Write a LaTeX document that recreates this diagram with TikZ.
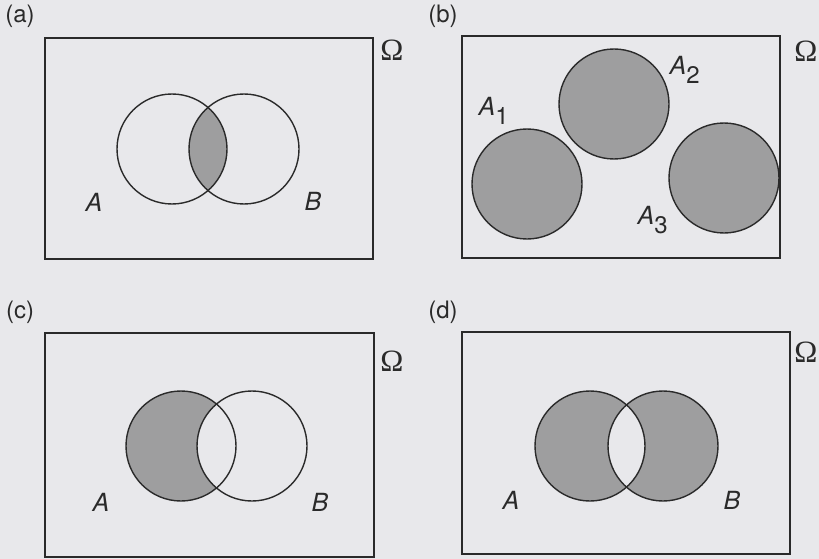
\documentclass[tikz,border=0pt]{standalone}
\usepackage{fontspec}
\setmainfont{TeX Gyre Heros}
\newfontfamily\omegafont{Liberation Serif}
\definecolor{paper}{HTML}{E8E8EB}
\definecolor{grayfill}{HTML}{9E9E9F}
\definecolor{ink}{HTML}{2A2A2A}
\begin{document}
\begin{tikzpicture}[x=1pt,y=-1pt,
  frame/.style={draw=ink,line width=1.5pt},
  ring/.style={draw=ink,line width=1.4pt},
  tag/.style={font=\fontsize{24}{26}\selectfont,text=ink,inner sep=0pt},
  setlbl/.style={font=\fontsize{25}{27}\selectfont\itshape,text=ink,inner sep=0pt},
  omg/.style={font=\omegafont\fontsize{31}{33}\selectfont,text=ink,inner sep=0pt}]
\fill[paper] (0,0) rectangle (819,559);
\useasboundingbox (0,0) rectangle (819,559);
% ---------- (a) ----------
\node[tag] (ta) at (20,16) {(a)};
\draw[frame] (45,38) rectangle (373,259);
\node[omg] (oa) at (392,50) {Ω};
\begin{scope}
  \clip (172,149) circle (55);
  \fill[grayfill] (244,149) circle (55);
\end{scope}
\draw[ring] (172,149) circle (55);
\draw[ring] (244,149) circle (55);
\node[setlbl] (la) at (94,202) {A};
\node[setlbl] (lb) at (313,201) {B};
% ---------- (b) ----------
\node[tag] (tb) at (443,16) {(b)};
\draw[frame] (462,36) rectangle (780,258);
\node[omg] (ob) at (806,51) {Ω};
\fill[grayfill] (527,184) circle (55);
\fill[grayfill] (614,104) circle (55);
\fill[grayfill] (724,178) circle (55);
\draw[ring] (527,184) circle (55);
\draw[ring] (614,104) circle (55);
\draw[ring] (724,178) circle (55);
\node[setlbl] (l1) at (494,111) {A\textsubscript{\fontsize{24}{26}\selectfont\upshape 1}};
\node[setlbl] (l2) at (685,70) {A\textsubscript{\fontsize{24}{26}\selectfont\upshape 2}};
\node[setlbl] (l3) at (653,220) {A\textsubscript{\fontsize{24}{26}\selectfont\upshape 3}};
% ---------- (c) ----------
\node[tag] (tc) at (20,312) {(c)};
\draw[frame] (45,333) rectangle (374,557);
\node[omg] (oc) at (392,361) {Ω};
\begin{scope}
  \clip (181,446) circle (55);
  \fill[grayfill,even odd rule] (181,446) circle (55) (252,446) circle (55);
\end{scope}
\draw[ring] (181,446) circle (55);
\draw[ring] (252,446) circle (55);
\node[setlbl] (lc1) at (101,502) {A};
\node[setlbl] (lc2) at (320,502) {B};
% ---------- (d) ----------
\node[tag] (td) at (443,312) {(d)};
\draw[frame] (462,332) rectangle (790,554);
\node[omg] (od) at (806,352) {Ω};
\fill[grayfill,even odd rule] (590,446) circle (55) (663,446) circle (55);
\draw[ring] (590,446) circle (55);
\draw[ring] (663,446) circle (55);
\node[setlbl] (ld1) at (511,500) {A};
\node[setlbl] (ld2) at (732,500) {B};
\end{tikzpicture}
\end{document}
